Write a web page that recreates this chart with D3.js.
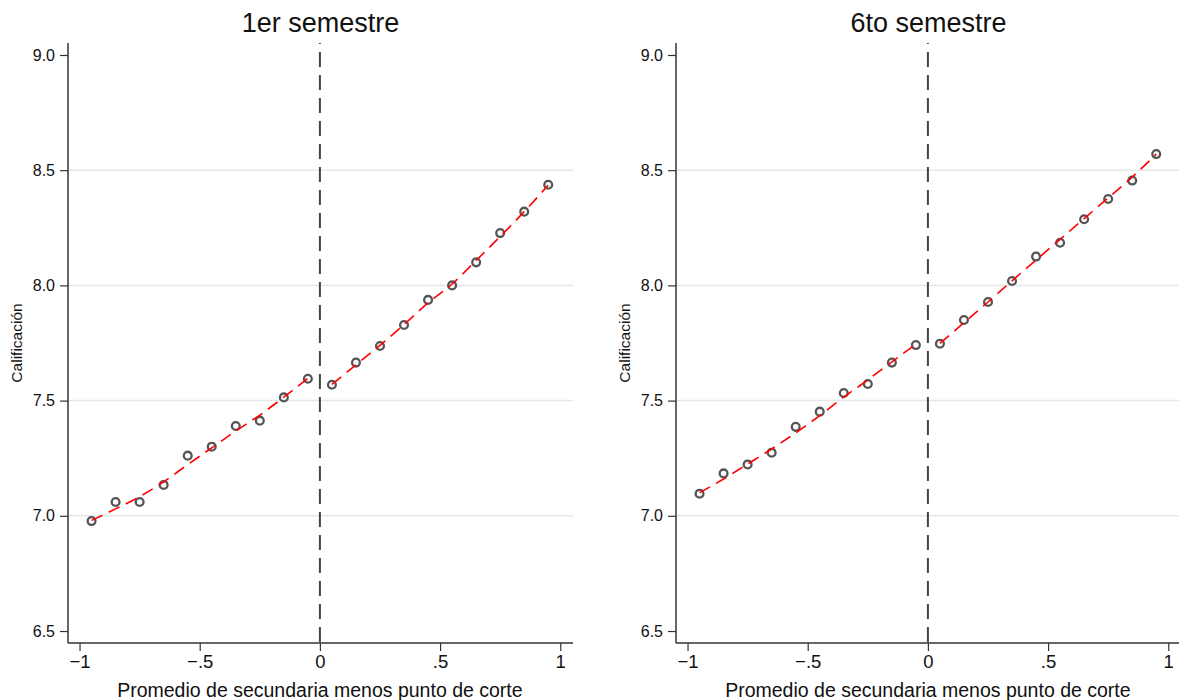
<!DOCTYPE html>
<html lang="es">
<head>
<meta charset="UTF-8">
<script src="https://cdn.jsdelivr.net/npm/d3@7"></script>
<title>Calificación por semestre</title>
<style>
  body { margin: 0; background: #fff; }
  svg { display: block; font-family: "Liberation Sans", Arial, sans-serif; }
</style>
</head>
<body>
<div id="viz"></div>
<script>
// bin centres (distance to cut-off)
const bins = [-0.95, -0.85, -0.75, -0.65, -0.55, -0.45, -0.35, -0.25, -0.15, -0.05,
              0.05, 0.15, 0.25, 0.35, 0.45, 0.55, 0.65, 0.75, 0.85, 0.95]

// 1er semestre
const sem1Means = [6.977, 7.06, 7.06, 7.134, 7.261, 7.30, 7.39, 7.413, 7.514, 7.595,
                   7.569, 7.665, 7.737, 7.828, 7.937, 8.00, 8.10, 8.227, 8.32, 8.437]
const sem1Fit = [6.98, 7.03, 7.083, 7.148, 7.222, 7.295, 7.368, 7.437, 7.515, 7.597,
                 7.57, 7.655, 7.74, 7.83, 7.924, 8.006, 8.108, 8.212, 8.32, 8.435]

// 6to semestre
const sem6Means = [7.096, 7.184, 7.223, 7.274, 7.386, 7.452, 7.533, 7.572, 7.665, 7.741,
                   7.747, 7.85, 7.928, 8.019, 8.125, 8.185, 8.287, 8.375, 8.455, 8.570]
const sem6Fit = [7.10, 7.16, 7.225, 7.29, 7.36, 7.435, 7.515, 7.59, 7.668, 7.745,
                 7.748, 7.838, 7.928, 8.02, 8.11, 8.2, 8.29, 8.38, 8.47, 8.57]

const xTicks = [-1, -0.5, 0, 0.5, 1]
const xTickLabels = ["\u22121", "\u2212.5", "0", ".5", "1"]
const yTicks = [6.5, 7.0, 7.5, 8.0, 8.5, 9.0]
const gridTicks = [7.0, 7.5, 8.0, 8.5]

const panels = [
  { title: "1er semestre", means: sem1Means, fit: sem1Fit, left: 68 },
  { title: "6to semestre", means: sem6Means, fit: sem6Fit, left: 676 }
]

const fullWidth = 1179
const fullHeight = 700
const plotW = 505
const plotTop = 43, plotBottom = 643

const svg = d3.select("#viz").append("svg")
  .attr("width", fullWidth)
  .attr("height", fullHeight)

const y = d3.scaleLinear().domain([6.448, 9.052]).range([plotBottom, plotTop])

panels.forEach(p => {
  const x = d3.scaleLinear().domain([-1.048, 1.053]).range([p.left, p.left + plotW])
  const right = Math.min(p.left + plotW, fullWidth)
  const g = svg.append("g")

  // grid
  g.selectAll(".grid").data(gridTicks).enter().append("line")
    .attr("x1", p.left).attr("x2", right)
    .attr("y1", d => y(d)).attr("y2", d => y(d))
    .attr("stroke", "#e6e6e6").attr("stroke-width", 1.5)

  // cut-off line
  g.append("line")
    .attr("x1", x(0)).attr("x2", x(0))
    .attr("y1", plotTop).attr("y2", plotBottom)
    .attr("stroke", "#444").attr("stroke-width", 2)
    .attr("stroke-dasharray", "15,8")
    .attr("stroke-dashoffset", 14)

  // axes
  const yAxis = g.append("g")
    .attr("transform", `translate(${p.left},0)`)
    .call(d3.axisLeft(y).tickValues(yTicks).tickFormat(d3.format(".1f")).tickSize(8).tickPadding(5))
  yAxis.select(".domain").attr("d", `M0,${plotTop}V${plotBottom}`)
  const xAxis = g.append("g")
    .attr("transform", `translate(0,${plotBottom})`)
    .call(d3.axisBottom(x).tickValues(xTicks).tickFormat((d, i) => xTickLabels[i]).tickSize(8).tickPadding(4))
  xAxis.select(".domain").attr("d", `M${p.left},0H${right}`)

  g.selectAll(".domain").attr("stroke", "#333").attr("stroke-width", 1.5)
  g.selectAll(".tick line").attr("stroke", "#333").attr("stroke-width", 1.2)
  yAxis.selectAll("text").attr("font-size", 16).attr("fill", "#111")
    .attr("font-family", "Liberation Sans, Arial, sans-serif")
  xAxis.selectAll("text").attr("font-size", 18.5).attr("fill", "#111")
    .attr("font-family", "Liberation Sans, Arial, sans-serif")

  // scatter
  const pts = bins.map((b, i) => ({ x: b, y: p.means[i] }))
  g.selectAll(".pt").data(pts).enter().append("circle")
    .attr("cx", d => x(d.x)).attr("cy", d => y(d.y)).attr("r", 3.9)
    .attr("fill", "none").attr("stroke", "#555").attr("stroke-width", 2.3)

  // fitted lines, one on each side of the cut-off
  const fitPts = bins.map((b, i) => ({ x: b, y: p.fit[i] }))
  const line = d3.line().x(d => x(d.x)).y(d => y(d.y)).curve(d3.curveMonotoneX)
  ;[fitPts.filter(d => d.x < 0), fitPts.filter(d => d.x > 0)].forEach(seg => {
    g.append("path").attr("d", line(seg))
      .attr("fill", "none").attr("stroke", "red").attr("stroke-width", 1.6)
      .attr("stroke-dasharray", "12,7")
  })

  // titles
  const cx = p.left + plotW / 2
  g.append("text").attr("x", cx).attr("y", 32).attr("text-anchor", "middle")
    .attr("font-size", 27).attr("fill", "#111").text(p.title)
  g.append("text").attr("x", x(0)).attr("y", 697).attr("text-anchor", "middle")
    .attr("font-size", 19.5).attr("fill", "#111").text("Promedio de secundaria menos punto de corte")
  g.append("text").attr("transform", `translate(${p.left - 46.5},${(plotTop + plotBottom) / 2}) rotate(-90)`)
    .attr("text-anchor", "middle").attr("font-size", 15.5).attr("fill", "#111").text("Calificación")
})
</script>
</body>
</html>
